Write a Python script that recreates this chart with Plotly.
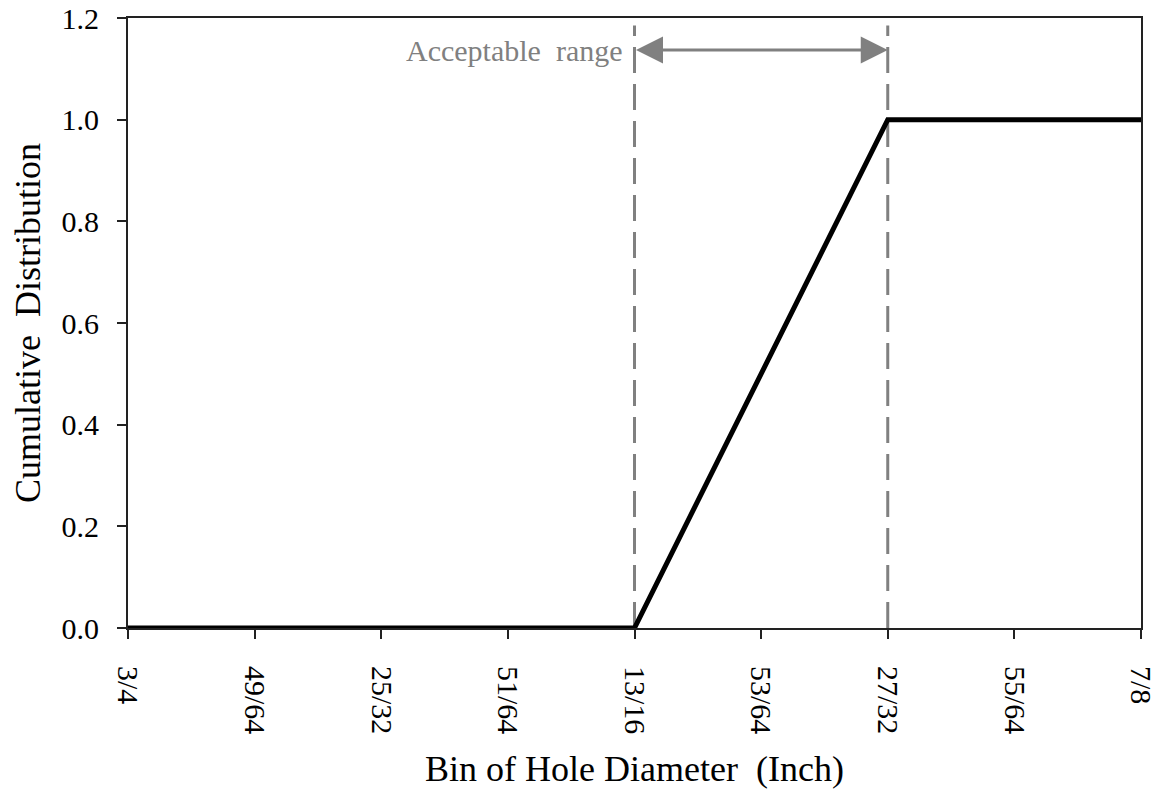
import plotly.graph_objects as go

# Data
x_fraction_labels = ["3/4", "49/64", "25/32", "51/64", "13/16", "53/64", "27/32", "55/64", "7/8"]
x_values = [48/64, 49/64, 50/64, 51/64, 52/64, 53/64, 54/64, 55/64, 56/64]
cumulative = [0, 0, 0, 0, 0, 0.5, 1.0, 1.0, 1.0]
acceptable_range = [52/64, 54/64]
arrow_level = 1.137
dash_top = 1.185

GRAY = "#808080"
FONT = "Liberation Serif, Times New Roman, serif"

fig = go.Figure()
fig.add_trace(go.Scatter(
    x=x_values, y=cumulative, mode="lines",
    line=dict(color="black", width=5), showlegend=False, hoverinfo="skip",
))

for xv in acceptable_range:
    fig.add_shape(type="line", xref="x", yref="y", x0=xv, x1=xv, y0=0, y1=dash_top,
                  line=dict(color=GRAY, width=3, dash="26px,11px"), layer="below")

fig.add_annotation(
    x=acceptable_range[1], y=arrow_level, ax=acceptable_range[0], ay=arrow_level,
    xref="x", yref="y", axref="x", ayref="y", text="", showarrow=True,
    arrowhead=2, arrowside="end+start", arrowwidth=3, arrowsize=1.8,
    arrowcolor=GRAY, standoff=0, startstandoff=0,
)
fig.add_annotation(
    x=acceptable_range[0], y=arrow_level, xref="x", yref="y", text="Acceptable\u00a0 range",
    showarrow=False, xanchor="right", yanchor="middle", xshift=-10,
    font=dict(family=FONT, size=30, color=GRAY),
)

fig.update_layout(
    width=1153, height=782,
    margin=dict(l=120, r=20, t=10, b=162),
    paper_bgcolor="white", plot_bgcolor="white",
    font=dict(family=FONT, color="black"),
    showlegend=False,
)
fig.update_xaxes(
    range=[x_values[0], x_values[-1]], tickvals=x_values, ticktext=x_fraction_labels,
    tickangle=90, ticks="outside", ticklen=9, tickwidth=2, tickcolor="#222",
    ticklabelstandoff=21, automargin=False, ticklabeloverflow="allow",
    showline=True, linecolor="#222", linewidth=2, mirror=True, showgrid=False, zeroline=False,
    tickfont=dict(family=FONT, size=30, color="black"),
    title=dict(text="Bin of Hole Diameter\u00a0 (Inch)", font=dict(family=FONT, size=36, color="black"), standoff=22),
)
fig.update_yaxes(
    range=[0, 1.2], dtick=0.2, tickformat=".1f",
    ticks="outside", ticklen=9, tickwidth=2, tickcolor="#222",
    ticklabelstandoff=12, automargin=False, ticklabeloverflow="allow",
    showline=True, linecolor="#222", linewidth=2, mirror=True, showgrid=False, zeroline=False,
    tickfont=dict(family=FONT, size=30, color="black"),
    title=dict(text="Cumulative\u00a0 Distribution", font=dict(family=FONT, size=36, color="black"), standoff=11),
)

fig.write_html("out.html")
